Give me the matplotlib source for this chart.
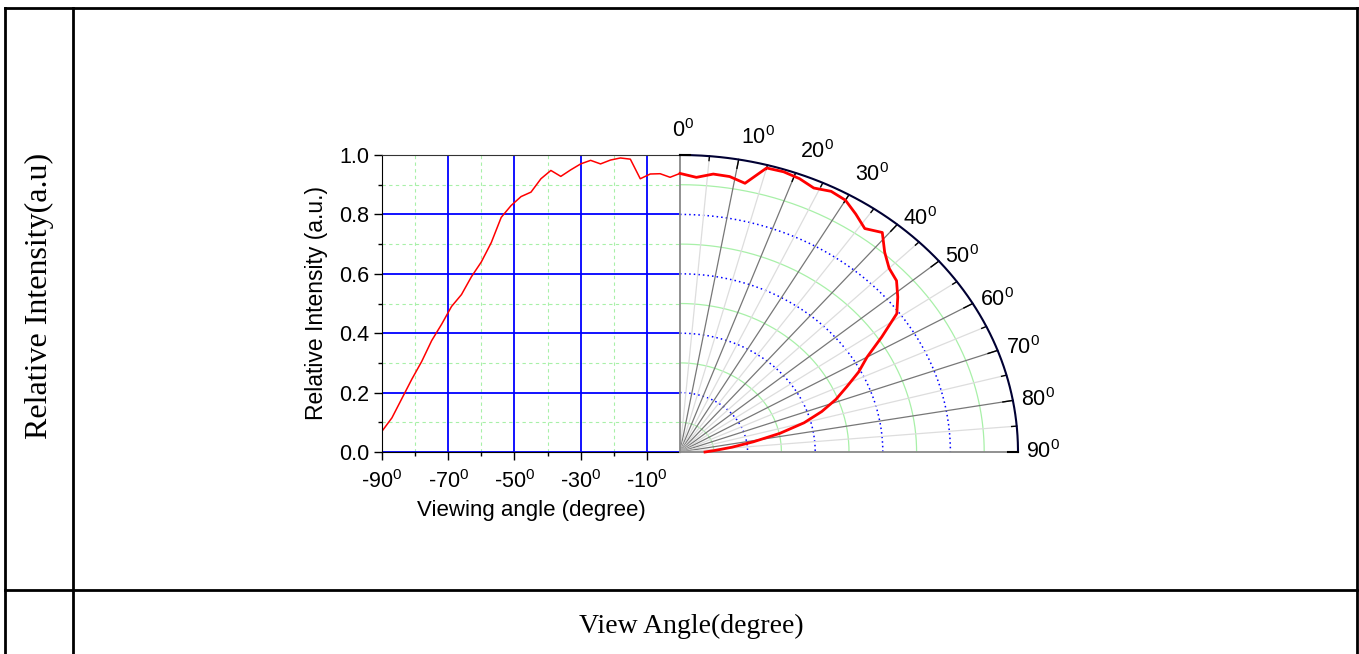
import numpy as np
import matplotlib
matplotlib.use('Agg')
import matplotlib.pyplot as plt
from matplotlib.lines import Line2D
from matplotlib.ticker import FixedLocator

plt.rcParams['font.family'] = ['Liberation Sans', 'DejaVu Sans']
plt.rcParams['mathtext.fontset'] = 'custom'
plt.rcParams['mathtext.rm'] = 'Liberation Sans'
plt.rcParams['mathtext.default'] = 'regular'

# left half: cartesian -90..0
neg_angles = [-90, -87, -84, -81, -78, -75, -72, -69, -66, -63, -60, -57, -54, -51, -48, -45,
              -42, -39, -36, -33, -30, -27, -24, -21, -18, -15, -12, -9, -6, -3, 0]
neg_intensity = [0.07, 0.115, 0.18, 0.245, 0.305, 0.375, 0.43, 0.49, 0.53, 0.59, 0.64, 0.705,
                 0.79, 0.83, 0.86, 0.875, 0.92, 0.948, 0.928, 0.95, 0.97, 0.982, 0.97, 0.983,
                 0.99, 0.986, 0.92, 0.936, 0.937, 0.925, 0.938]

# right half: polar 0..90
pos_angles = [0, 3, 6, 9, 12, 15, 18, 21, 24, 27, 30, 33, 36, 39, 42, 45,
              48, 51, 54, 57, 60, 63, 66, 69, 72, 75, 78, 81, 84, 87, 90]
pos_intensity = [0.938, 0.926, 0.941, 0.939, 0.925, 0.99, 0.992, 0.986, 0.973, 0.985, 0.979,
                 0.955, 0.93, 0.951, 0.905, 0.875, 0.862, 0.829, 0.793, 0.712, 0.639, 0.593,
                 0.54, 0.494, 0.441, 0.38, 0.302, 0.22, 0.155, 0.105, 0.074]

x_ticks = [-90, -70, -50, -30, -10]
x_minor = [-80, -60, -40, -20]
y_ticks = [0.0, 0.2, 0.4, 0.6, 0.8, 1.0]
y_minor = [0.1, 0.3, 0.5, 0.7, 0.9]
polar_labels = [0, 10, 20, 30, 40, 50, 60, 70, 80, 90]
blue_rings = [0.2, 0.4, 0.6, 0.8]
green_rings = [0.1, 0.3, 0.5, 0.7, 0.9]

W, H = 1359, 654
fig = plt.figure(figsize=(W / 100, H / 100), dpi=100)


def fx(px):
    return px / W


def fy(py):
    return 1 - py / H


# table frame
frame = [((5, 8), (1357, 8)), ((5, 8), (5, 654)), ((73, 8), (73, 654)),
         ((1357, 8), (1357, 654)), ((5, 590), (1357, 590))]
for (x0, y0), (x1, y1) in frame:
    fig.add_artist(Line2D([fx(x0), fx(x1)], [fy(y0), fy(y1)], color='black', lw=2.0,
                          transform=fig.transFigure))

fig.text(fx(39), fy(296), 'Relative Intensity(a.u)', rotation=90, ha='center', va='center',
         family='Liberation Serif', fontsize=23)
fig.text(fx(691), fy(626), 'View Angle(degree)', ha='center', va='center',
         family='Liberation Serif', fontsize=20)

# cartesian part
ax1 = fig.add_axes([fx(382), fy(452), fx(680) - fx(382), fy(155) - fy(452)])
ax1.set_xlim(-90, 0)
ax1.set_ylim(0, 1.0)
ax1.xaxis.set_major_locator(FixedLocator(x_ticks))
ax1.xaxis.set_minor_locator(FixedLocator(x_minor))
ax1.yaxis.set_major_locator(FixedLocator(y_ticks))
ax1.yaxis.set_minor_locator(FixedLocator(y_minor))
ax1.set_xticklabels(['%d$^0$' % a for a in x_ticks])
ax1.set_yticklabels(['%.1f' % v for v in y_ticks])
ax1.grid(which='major', color='#0000ff', lw=1.3, ls='-')
ax1.grid(which='minor', color='#a8f0a8', lw=0.8, ls=(0, (3, 3)))
ax1.set_axisbelow(True)
ax1.tick_params(which='major', direction='out', length=6, width=1, labelsize=15.5, pad=3)
ax1.tick_params(axis='x', which='major', pad=7)
ax1.tick_params(which='minor', direction='out', length=3, width=1)
ax1.spines['right'].set_visible(False)
ax1.spines['top'].set_color('#333333')
ax1.plot(neg_angles, neg_intensity, color='red', lw=1.1)
ax1.set_xlabel('Viewing angle (degree)', fontsize=16, labelpad=5)
ax1.set_ylabel('Relative Intensity (a.u.)', fontsize=16.5, labelpad=8)

# polar quarter, drawn on a 0..1 box so it stretches like the original
ax2 = fig.add_axes([fx(680), fy(452), fx(1018) - fx(680), fy(155) - fy(452)])
ax2.set_xlim(0, 1)
ax2.set_ylim(0, 1)
ax2.axis('off')

t = np.radians(np.linspace(0, 90, 200))
for r in green_rings:
    ax2.plot(r * np.sin(t), r * np.cos(t), color='#a8f0a8', lw=0.9)
for r in blue_rings:
    ax2.plot(r * np.sin(t), r * np.cos(t), color='#0000ff', lw=1.1, ls=(0, (1, 2)))

for a in range(5, 90, 5):
    th = np.radians(a)
    col = '#777777' if a % 10 == 0 else '#dddddd'
    ax2.plot([0, np.sin(th)], [0, np.cos(th)], color=col, lw=0.9)
    tick = 0.03 if a % 10 == 0 else 0.015
    ax2.plot([(1 - tick) * np.sin(th), np.sin(th)], [(1 - tick) * np.cos(th), np.cos(th)],
             color='black', lw=1.0, clip_on=False)

ax2.plot([0, 0], [0, 1], color='#888888', lw=1.3, clip_on=False)
ax2.plot([0, 1], [0, 0], color='#888888', lw=1.3, clip_on=False)
ax2.plot(np.sin(t), np.cos(t), color='#000033', lw=1.5, clip_on=False)
ax2.plot([0, 0.03], [1, 1], color='black', lw=1.5, clip_on=False)
ax2.plot([0.97, 1], [0, 0], color='black', lw=1.5, clip_on=False)

th = np.radians(pos_angles)
r = np.array(pos_intensity)
ax2.plot(r * np.sin(th), r * np.cos(th), color='red', lw=2, clip_on=False)

for a in polar_labels:
    th = np.radians(a)
    if a == 0:
        ax2.text(0.01, 1.045, '0$^0$', ha='center', va='bottom', fontsize=15.5)
    elif a <= 30:
        ax2.text(1.035 * np.sin(th), 1.035 * np.cos(th), '%d$^0$' % a, ha='left', va='bottom',
                 fontsize=15.5)
    else:
        ax2.text(1.025 * np.sin(th), 1.025 * np.cos(th), '%d$^0$' % a, ha='left', va='center',
                 fontsize=15.5)

fig.savefig('out.png', dpi=100)
